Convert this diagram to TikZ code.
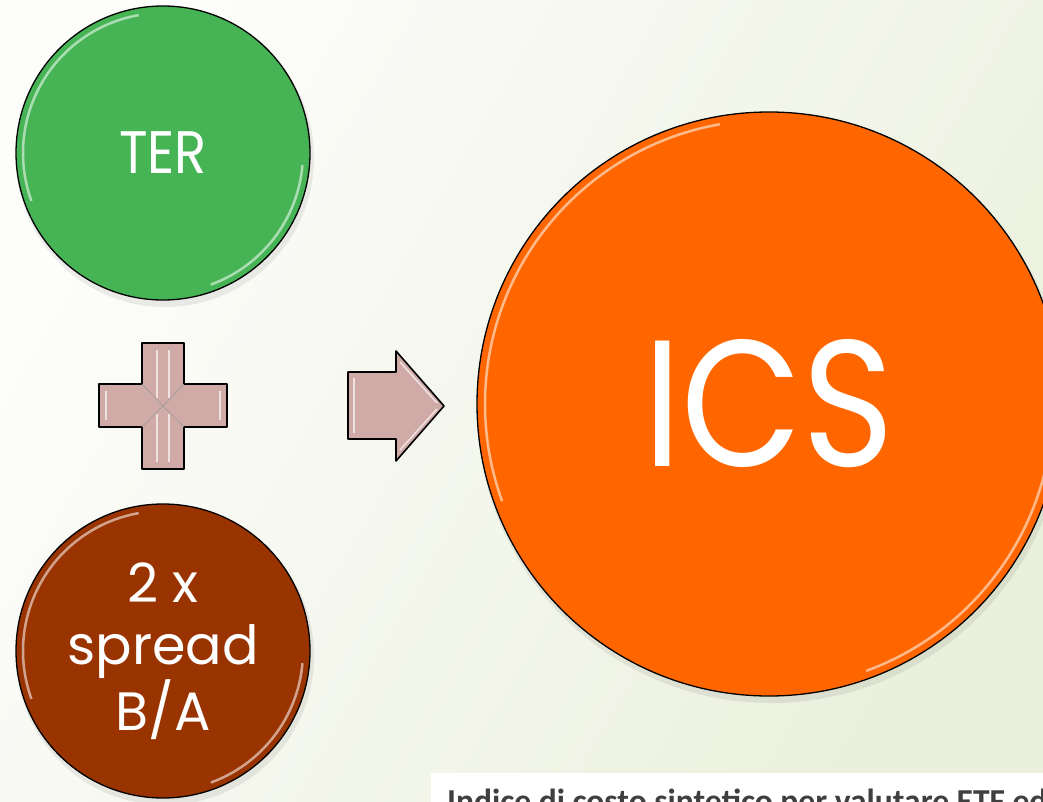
\documentclass[tikz,border=0pt]{standalone}
\usepackage{graphicx}
\usepackage{fontspec}
\setmainfont{Poppins}
\newfontfamily\capfont{Carlito}
\definecolor{tergreen}{HTML}{46B455}
\definecolor{spreadbrown}{HTML}{993300}
\definecolor{icsorange}{HTML}{FF6600}
\definecolor{bevelpink}{HTML}{CFAAA7}
\definecolor{bgtop}{HTML}{FDFDFB}
\definecolor{bggreen}{HTML}{EBF0DD}
\definecolor{captiongray}{HTML}{3F3F3F}

\newcommand{\wmax}{1043}
\newcommand{\hmax}{802}
\newcommand{\gloss}[2]{%
  \draw[white,opacity=0.55,line width=2.5pt] (#1.center) ++(-100:#2) arc[start angle=-100,end angle=-200,radius=#2];
  \draw[white,opacity=0.55,line width=2.5pt] (#1.center) ++(5:#2) arc[start angle=5,end angle=70,radius=#2];}

\begin{document}
\begin{tikzpicture}[x=1pt,y=-1pt,
    ball/.style={circle,draw=black,line width=1.3pt,text=white,align=center,inner sep=0pt},
    bevel/.style={fill=bevelpink,draw=black,line width=1.6pt,line join=round},
    facet/.style={white,opacity=0.65,line width=1.6pt}]
  \useasboundingbox (0,0) rectangle (\wmax,\hmax);
  \clip (0,0) rectangle (\wmax,\hmax);
  \shade[top color=bgtop,bottom color=bggreen,shading angle=60] (0,0) rectangle (\wmax,\hmax);

  % shadows
  \foreach \cx/\cy/\r in {163/153/147,163/651/147,769/404/292}
  {
    \fill[black,opacity=0.07] (\cx+2,\cy+5) circle (\r+2);
  }

  \node[ball,fill=tergreen,minimum size=294pt,font=\fontsize{60}{66}\selectfont] (ter) at (163,153) {\scalebox{0.88}[1]{TER}};
  \node[ball,fill=spreadbrown,minimum size=294pt,font=\fontsize{54}{62}\selectfont] (spread) at (163,651) {2 x\\spread\\B/A};
  \node[ball,fill=icsorange,minimum size=584pt,font=\fontsize{180}{190}\selectfont] (ics) at (769,404) {\scalebox{0.87}[1]{ICS}};
  \gloss{ter}{140}
  \gloss{spread}{140}
  \gloss{ics}{284}

  % plus
  \coordinate (plus) at (163,406);
  \draw[bevel] (142,343) -- (184,343) -- (184,384) -- (227,384) -- (227,427) -- (184,427)
    -- (184,469) -- (142,469) -- (142,427) -- (99,427) -- (99,384) -- (142,384) -- cycle;
  \draw[facet] (157,350) -- (157,398) (169,350) -- (169,398) (157,414) -- (157,462) (169,414) -- (169,462);
  \draw[facet] (106,391) -- (106,420) (220,391) -- (220,420);
  \draw[black!40,line width=0.6pt] (142,384) -- (plus) -- (184,427) (184,384) -- (plus) -- (142,427);

  % arrow
  \coordinate (tip) at (444,406);
  \draw[bevel] (348,372) -- (396,372) -- (396,351) -- (tip) -- (396,461) -- (396,439) -- (348,439) -- cycle;
  \draw[facet] (354,378) -- (354,433);
  \draw[facet] (400,362) -- (437,403) (400,450) -- (437,409);

  % caption
  \fill[white] (431,773) rectangle (\wmax,\hmax);
  \node[anchor=base west,inner sep=0pt,text=captiongray,font=\capfont\bfseries\fontsize{33.5}{38}\selectfont] (caption) at (447,812) {Indice di costo sintetico per valutare ETF ed};
\end{tikzpicture}
\end{document}
